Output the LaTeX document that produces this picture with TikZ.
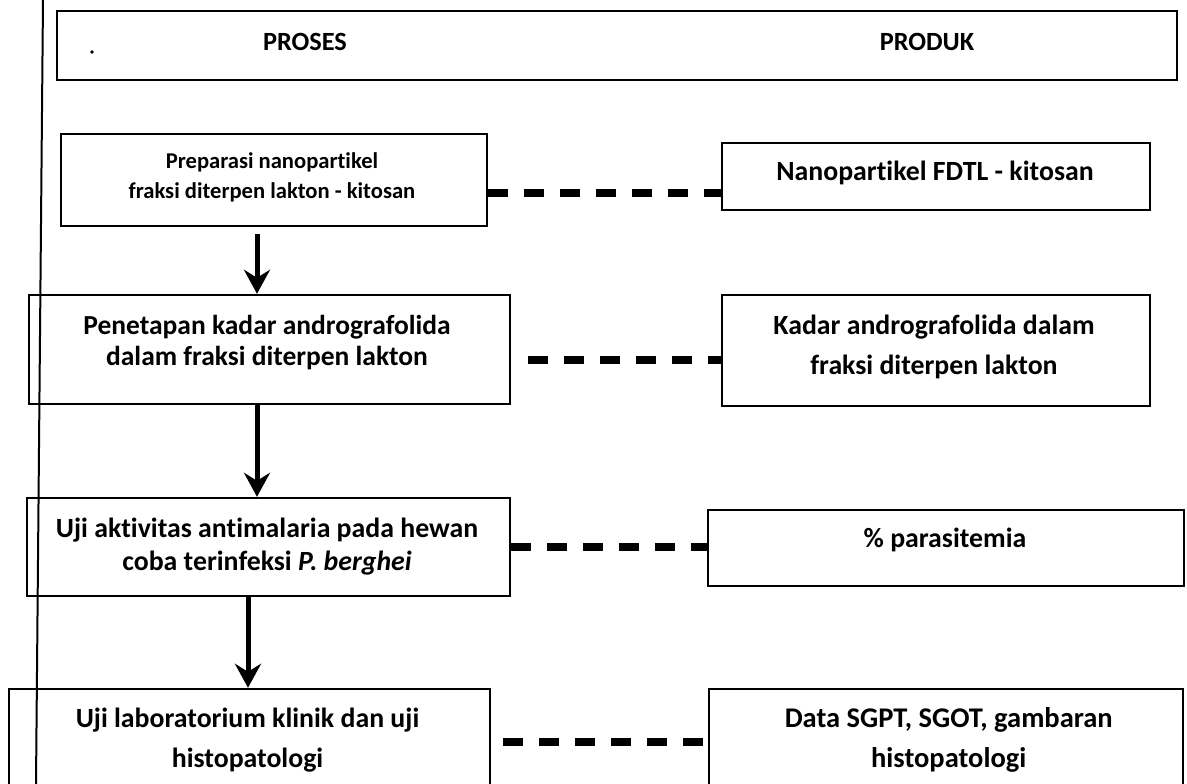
\documentclass[tikz,border=0pt]{standalone}
\usepackage{fontspec}
\setmainfont[Ligatures={NoCommon}]{Carlito}
\usetikzlibrary{arrows.meta,calc}
\begin{document}
\begin{tikzpicture}[x=1pt,y=-1pt,
  box/.style={draw, line width=2.4pt, inner sep=0pt},
  lbl/.style={align=center, inner sep=0pt},
  flow/.style={line width=5pt, -{Stealth[length=24pt,width=26pt,inset=8pt]}},
  link/.style={line width=8pt, dash pattern=on 20pt off 16pt}]
\useasboundingbox (0,0) rectangle (1187,784);
% left margin rule
\coordinate (rt) at (43,0);
\coordinate (rb) at (36,784);
\draw[line width=2pt] (rt) -- (rb);
% header
\node[box, line width=2pt, minimum width=1120pt, minimum height=69pt] (hdr) at (617,45.5) {};
\node[lbl, font=\fontsize{26.3}{30}\selectfont\bfseries] (hp) at (305,42) {PROSES};
\node[lbl, font=\fontsize{26.3}{30}\selectfont\bfseries] (hq) at (927,42) {PRODUK};
\fill (92,52) circle (1.8pt);
% process boxes
\node[box, minimum width=426pt, minimum height=92pt] (b1) at (274,180) {};
\node[box, minimum width=481pt, minimum height=109pt] (b2) at (269.5,349.5) {};
\node[box, minimum width=483pt, minimum height=98pt] (b3) at (268.5,547) {};
\node[box, minimum width=481pt, minimum height=130pt] (b4) at (249.5,754) {};
% product boxes
\node[box, minimum width=428pt, minimum height=67pt] (p1) at (936,176.5) {};
\node[box, minimum width=428pt, minimum height=111pt] (p2) at (936,350.5) {};
\node[box, minimum width=476pt, minimum height=76pt] (p3) at (946,548) {};
\node[box, minimum width=474pt, minimum height=130pt] (p4) at (946,754) {};
% texts
\node[lbl, font=\fontsize{22.6}{30}\selectfont\bfseries] (t1) at (272,177) {Preparasi nanopartikel\\fraksi diterpen lakton - kitosan};
\node[lbl, font=\fontsize{27.5}{31}\selectfont\bfseries] (t2) at (267,342.5) {Penetapan kadar andrografolida\\dalam fraksi diterpen lakton};
\node[lbl, font=\fontsize{27.8}{33}\selectfont\bfseries] (t3) at (267,546.5) {Uji aktivitas antimalaria pada hewan\\coba terinfeksi \textit{P. berghei}};
\node[lbl, font=\fontsize{27.8}{40}\selectfont\bfseries] (t4) at (247.5,740) {Uji laboratorium klinik dan uji\\histopatologi};
\node[lbl, font=\fontsize{27.8}{40}\selectfont\bfseries] (u1) at (935,173) {Nanopartikel FDTL - kitosan};
\node[lbl, font=\fontsize{27.8}{40}\selectfont\bfseries] (u2) at (934,347) {Kadar andrografolida dalam\\fraksi diterpen lakton};
\node[lbl, font=\fontsize{27.8}{40}\selectfont\bfseries] (u3) at (945,540) {\% parasitemia};
\node[lbl, font=\fontsize{28.5}{40}\selectfont\bfseries] (u4) at (948.7,740) {Data SGPT, SGOT, gambaran\\histopatologi};
% flow arrows
\draw[flow, shorten <=7pt] ([xshift=-17pt]b1.south) -- ([xshift=-12.5pt]b2.north);
\draw[flow] ([xshift=-12.5pt]b2.south) -- ([xshift=-11.5pt]b3.north);
\draw[flow] ([xshift=-20.5pt]b3.south) -- ([xshift=-1.5pt]b4.north);
% dashed links
\draw[link] ([yshift=-13pt]b1.east) -- ([yshift=-16.5pt]p1.west);
\draw[link, shorten <=17pt] ([yshift=-10.5pt]b2.east) -- ([yshift=-9.5pt]p2.west);
\draw[link] (b3.east) -- ([yshift=1pt]p3.west);
\draw[link, shorten <=12pt] ([yshift=12pt]b4.east) -- ([yshift=12pt]p4.west);
\end{tikzpicture}
\end{document}
